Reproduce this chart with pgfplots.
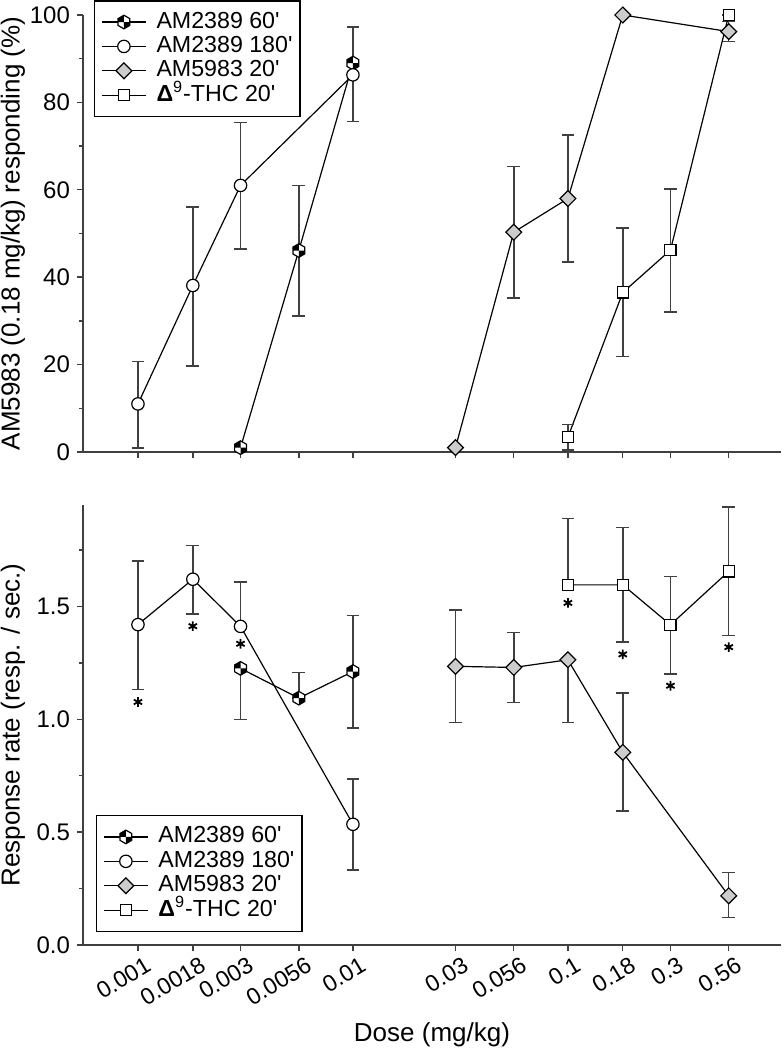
\documentclass[border=0pt]{standalone}
\usepackage{fontspec}
\setmainfont{Liberation Sans}
\usepackage{pgfplots}
\pgfplotsset{compat=1.18}
\usepackage{pgfplotstable}

\definecolor{axgray}{gray}{0.25}
\definecolor{dfill}{gray}{0.80}

\pgfdeclareplotmark{hexq}{%
  \pgfpathmoveto{\pgfqpoint{0pt}{\pgfplotmarksize}}%
  \pgfpathlineto{\pgfqpoint{0.866\pgfplotmarksize}{0.5\pgfplotmarksize}}%
  \pgfpathlineto{\pgfqpoint{0.866\pgfplotmarksize}{-0.5\pgfplotmarksize}}%
  \pgfpathlineto{\pgfqpoint{0pt}{-\pgfplotmarksize}}%
  \pgfpathlineto{\pgfqpoint{-0.866\pgfplotmarksize}{-0.5\pgfplotmarksize}}%
  \pgfpathlineto{\pgfqpoint{-0.866\pgfplotmarksize}{0.5\pgfplotmarksize}}%
  \pgfpathclose
  \pgfsetfillcolor{white}%
  \pgfusepath{fill}%
  \pgfpathmoveto{\pgfqpoint{0pt}{0pt}}%
  \pgfpathlineto{\pgfqpoint{0pt}{\pgfplotmarksize}}%
  \pgfpathlineto{\pgfqpoint{-0.866\pgfplotmarksize}{0.5\pgfplotmarksize}}%
  \pgfpathlineto{\pgfqpoint{-0.866\pgfplotmarksize}{0pt}}%
  \pgfpathclose
  \pgfpathmoveto{\pgfqpoint{0pt}{0pt}}%
  \pgfpathlineto{\pgfqpoint{0pt}{-\pgfplotmarksize}}%
  \pgfpathlineto{\pgfqpoint{0.866\pgfplotmarksize}{-0.5\pgfplotmarksize}}%
  \pgfpathlineto{\pgfqpoint{0.866\pgfplotmarksize}{0pt}}%
  \pgfpathclose
  \pgfsetfillcolor{black}%
  \pgfusepath{fill}%
  \pgfpathmoveto{\pgfqpoint{0pt}{\pgfplotmarksize}}%
  \pgfpathlineto{\pgfqpoint{0.866\pgfplotmarksize}{0.5\pgfplotmarksize}}%
  \pgfpathlineto{\pgfqpoint{0.866\pgfplotmarksize}{-0.5\pgfplotmarksize}}%
  \pgfpathlineto{\pgfqpoint{0pt}{-\pgfplotmarksize}}%
  \pgfpathlineto{\pgfqpoint{-0.866\pgfplotmarksize}{-0.5\pgfplotmarksize}}%
  \pgfpathlineto{\pgfqpoint{-0.866\pgfplotmarksize}{0.5\pgfplotmarksize}}%
  \pgfpathclose
  \pgfusepath{stroke}%
}

% ---------------- top panel data ----------------
\pgfplotstableread{
x y ep em
0.003 1.0 0 0
0.0056 46.1 14.9 15.0
0.01 89.0 0 0
}\topA
\pgfplotstableread{
x y ep em
0.001 11.0 9.7 10.1
0.0018 38.1 18.0 18.4
0.003 61.0 14.4 14.6
0.01 86.3 11.0 10.7
}\topB
\pgfplotstableread{
x y ep em
0.03 1.0 0 0
0.056 50.3 15.0 15.1
0.1 58.0 14.5 14.5
0.18 100.0 0 0
0.56 96.2 2.3 2.3
}\topC
\pgfplotstableread{
x y ep em
0.1 3.4 2.9 2.9
0.18 36.5 14.8 14.7
0.3 46.2 14.0 14.2
0.56 100.0 0 0
}\topD
% ---------------- bottom panel data ----------------
\pgfplotstableread{
x y ep em
0.003 1.226 0 0.226
0.0056 1.094 0.114 0
0.01 1.212 0.248 0.250
}\botA
\pgfplotstableread{
x y ep em
0.001 1.420 0.282 0.287
0.0018 1.621 0.150 0.155
0.003 1.412 0.196 0
0.01 0.535 0.200 0.203
}\botB
\pgfplotstableread{
x y ep em
0.03 1.235 0.250 0.248
0.056 1.230 0.155 0.156
0.1 1.264 0 0.277
0.18 0.854 0.262 0.260
0.56 0.218 0.104 0.097
}\botC
\pgfplotstableread{
x y ep em
0.1 1.596 0.295 0
0.18 1.596 0.255 0.254
0.3 1.419 0.214 0.217
0.56 1.656 0.286 0.284
}\botD
\pgfplotstableread{
x y
0.001 1.077
0.0018 1.413
0.003 1.335
0.1 1.516
0.18 1.288
0.3 1.149
0.56 1.320
}\stars

\pgfplotsset{
  myaxisbase/.style={
    scale only axis, width=349pt,
    xmin=0.000555, xmax=0.98,
    axis x line=bottom, axis y line=left,
    axis line style={-, axgray, line width=0.75pt},
    tick align=outside, major tick length=3pt, minor tick length=2pt,
    tick style={axgray, line width=0.7pt},
    xtick={0.001,0.0018,0.003,0.0056,0.01,0.03,0.056,0.1,0.18,0.3,0.56},
    /pgf/number format/assume math mode=true,
    ticklabel style={font=\fontsize{12}{14}\selectfont},
    label style={font=\fontsize{13}{15}\selectfont},
    every axis plot/.append style={line width=0.6pt},
    legend cell align=left,
    legend image code/.code={\draw[mark repeat=2,mark phase=2] plot coordinates {(0pt,0pt) (11pt,0pt) (22pt,0pt)};},
    legend style={draw=black, line width=0.7pt, font=\fontsize{11.6}{13}\selectfont,
      inner xsep=3.3pt, inner ysep=4.5pt, row sep=0pt,
      nodes={inner sep=0.5pt, text height=8.6pt, text depth=2.6pt},
      /tikz/every odd column/.append style={column sep=4.5pt}},
  },
  errs/.style={
    error bars/.cd, y dir=both, y explicit,
    error bar style={axgray, line width=0.75pt},
    error mark options={rotate=90, mark size=3.2pt, axgray, line width=0.75pt},
  },
  sA/.style={black, mark=hexq, mark size=3.4pt, errs},
  sB/.style={black, mark=*, mark size=3.1pt, mark options={fill=white}, errs},
  sC/.style={black, mark=square*, mark size=2.8pt, mark options={fill=dfill, rotate=45}, errs},
  sD/.style={black, mark=square*, mark size=2.8pt, mark options={fill=white}, errs},
}

\begin{document}
\begin{tikzpicture}
% ---------------- top panel ----------------
\begin{axis}[xmode=log, myaxisbase, at={(0,246.5pt)}, anchor=south west, height=218.5pt,
  ymin=0, ymax=100, ytick={0,20,...,100}, minor ytick={10,30,...,90},
  xticklabels={},
  ylabel={AM5983 (0.18 mg/kg) responding (\%)},
  ylabel style={at={(-0.1003,0.5)}, anchor=center},
  legend style={at={(0.0158,1.034)}, anchor=north west},
]
\addplot[sA] table[x=x, y=y, y error plus=ep, y error minus=em] {\topA};
\addlegendentry{AM2389 60\textquotesingle}
\addplot[sB] table[x=x, y=y, y error plus=ep, y error minus=em] {\topB};
\addlegendentry{AM2389 180\textquotesingle}
\addplot[sC] table[x=x, y=y, y error plus=ep, y error minus=em] {\topC};
\addlegendentry{AM5983 20\textquotesingle}
\addplot[sD] table[x=x, y=y, y error plus=ep, y error minus=em] {\topD};
\addlegendentry{{\bfseries Δ}\textsuperscript{9}-THC 20\textquotesingle}
\end{axis}
% ---------------- bottom panel ----------------
\begin{axis}[xmode=log, myaxisbase, at={(0,0)}, anchor=south west, height=220pt,
  ymin=0, ymax=1.95, ytick={0,0.5,1,1.5}, yticklabels={0.0,0.5,1.0,1.5},
  minor ytick={0.25,0.75,1.25,1.75},
  xticklabels={0.001,0.0018,0.003,0.0056,0.01,0.03,0.056,0.1,0.18,0.3,0.56},
  xticklabel style={font=\fontsize{11.6}{13}\selectfont, rotate=31, anchor=north east, inner sep=0.5pt, xshift=2pt, yshift=-3pt},
  xlabel={Dose (mg/kg)},
  xlabel style={at={(0.5,-0.205)}, anchor=center},
  ylabel={Response rate (resp. / sec.)},
  ylabel style={at={(-0.1003,0.5)}, anchor=center},
  legend style={at={(0.0186,0.0295)}, anchor=south west},
]
\addplot[sA] table[x=x, y=y, y error plus=ep, y error minus=em] {\botA};
\addlegendentry{AM2389 60\textquotesingle}
\addplot[sB] table[x=x, y=y, y error plus=ep, y error minus=em] {\botB};
\addlegendentry{AM2389 180\textquotesingle}
\addplot[sC] table[x=x, y=y, y error plus=ep, y error minus=em] {\botC};
\addlegendentry{AM5983 20\textquotesingle}
\addplot[sD] table[x=x, y=y, y error plus=ep, y error minus=em] {\botD};
\addlegendentry{{\bfseries Δ}\textsuperscript{9}-THC 20\textquotesingle}
\addplot[only marks, mark=asterisk, mark size=2.4pt, line width=0.9pt, black, forget plot] table[x=x, y=y] {\stars};
\end{axis}
\pgfresetboundingbox
\path[use as bounding box] (-41.5pt,-52.5pt) rectangle (350pt,472.5pt);
\end{tikzpicture}
\end{document}
